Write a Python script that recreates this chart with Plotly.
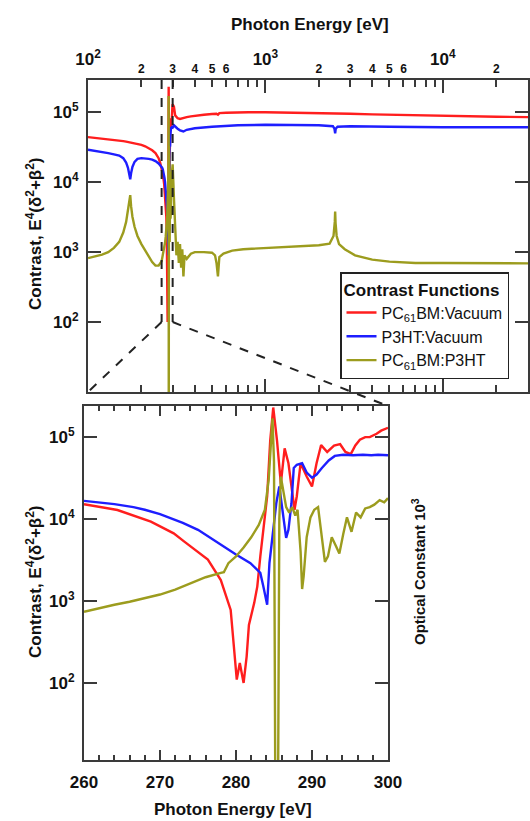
import math
import plotly.graph_objects as go

W, H = 530, 821

# ---------------- data ----------------
# Broad scan below the carbon edge (eV)
E_low = [100, 110, 120, 130, 140, 150, 158, 164, 168, 171, 173, 175, 178, 183, 190, 200, 210, 220, 230, 240, 250, 255]
red_low = [4.4e4, 4.3e4, 4.2e4, 4.1e4, 4.0e4, 3.9e4, 3.85e4, 3.8e4, 3.75e4, 3.72e4, 3.7e4, 3.68e4, 3.65e4, 3.6e4,
           3.5e4, 3.4e4, 3.25e4, 3.05e4, 2.85e4, 2.6e4, 2.2e4, 1.9e4]
blue_low = [2.9e4, 2.8e4, 2.7e4, 2.6e4, 2.5e4, 2.4e4, 2.2e4, 1.9e4, 1.6e4, 1.25e4, 1.1e4, 1.35e4, 1.65e4, 1.95e4,
            2.15e4, 2.2e4, 2.2e4, 2.15e4, 2.1e4, 2.0e4, 1.85e4, 1.75e4]
olive_low = [820, 860, 920, 1000, 1150, 1400, 1900, 2700, 3800, 5500, 6500, 4500, 3200, 2300, 1700, 1300, 1050, 850,
             720, 640, 640, 690]

# Fine scan 260-300 eV
red_fine_E = [260, 264.4, 268.8, 271.8, 273.2, 276.3, 278, 279.3, 280.1, 280.5, 281, 281.4, 281.7, 282.4, 282.8, 283.2,
              284.1, 284.5, 284.9, 285.4, 285.9, 286.4, 286.9, 287.7, 288, 288.5, 289.3, 290, 290.6, 291.2, 292,
              292.9, 293.7, 294.4, 295.1, 295.7, 296.3, 297, 297.6, 298.5, 299.1, 300]
red_fine = [1.52e4, 1.29e4, 9300, 6700, 5300, 3200, 1800, 780, 110, 175, 100, 210, 510, 950, 1500, 3500,
            1.9e4, 9e4, 2.3e5, 9e4, 2.7e4, 7.3e4, 4.8e4, 1.3e4, 1.9e4, 4.8e4, 3.3e4, 2.5e4, 4.8e4, 8e4, 6.6e4,
            7.9e4, 8.2e4, 6.6e4, 6.2e4, 7.9e4, 9.3e4, 1e5, 1e5, 1.1e5, 1.2e5, 1.3e5]
blue_fine_E = [260, 262, 264, 266.5, 268, 270, 271.6, 273, 275, 276.5, 278.5, 280, 281.9, 283.2, 283.6, 283.9, 284.1,
               284.4, 284.9, 285.3, 285.7, 286.2, 286.6, 286.9, 287.3, 287.6, 288, 288.7, 289.3, 290, 290.6, 291.3,
               292.2, 293, 294.1, 295.4, 296.7, 297.8, 298.7, 300]
blue_fine = [1.67e4, 1.6e4, 1.52e4, 1.4e4, 1.3e4, 1.15e4, 1.02e4, 9000, 7400, 6000, 4600, 3700, 2900, 2200, 1500,
             1100, 900, 2900, 7400, 1.56e4, 2.5e4, 1.07e4, 5900, 7400, 1.56e4, 4.2e4, 4.6e4, 4.8e4, 3.7e4, 3.2e4,
             3.5e4, 4.2e4, 5.2e4, 5.9e4, 6.1e4, 6e4, 6.1e4, 6e4, 6.1e4, 6e4]
olive_fine_E = [260, 262, 264, 266, 268, 270, 272, 274, 276, 278, 278.4, 279, 280, 281, 282, 283, 283.8, 284.3, 284.6,
                284.8, 285.0, 285.2, 285.5, 285.7, 285.9, 286.2, 286.6, 287.0, 287.4, 287.8, 288.1, 288.5, 288.7,
                288.9, 289.3, 289.8, 290.3, 290.8, 291.3, 291.7, 292.1, 292.6, 293.1, 293.6, 294.1, 294.6, 295.2,
                295.8, 296.4, 297.0, 297.6, 298.2, 298.9, 299.5, 300]
olive_fine = [740, 820, 900, 980, 1080, 1200, 1380, 1650, 1950, 2200, 2250, 2900, 3500, 4500, 6000, 8500, 1.3e4, 3e4,
              1e5, 1.7e5, 5e4, 1, 1, 1e4, 3.3e4, 2.3e4, 1.4e4, 1.2e4, 1.4e4, 1.1e4, 1.3e4, 4000, 1400, 2000, 6000,
              1.05e4, 1.3e4, 1.4e4, 6000, 3000, 3500, 6000, 4800, 3800, 6500, 1.05e4, 7000, 1.2e4, 1.05e4, 1.35e4,
              1.4e4, 1.5e4, 1.7e4, 1.6e4, 1.8e4]

# Broad scan above the carbon edge (eV)
red_high_E = [305, 310, 320, 330, 340, 360, 380, 400, 450, 500, 530, 540, 550, 600, 700, 800, 1000, 1500, 2000, 2470,
              3000, 4000, 6000, 8000, 10000, 15000, 20000, 31000]
red_high = [1.2e5, 9e4, 8.2e4, 8e4, 8.2e4, 8.5e4, 8.7e4, 8.9e4, 9.2e4, 9.4e4, 9.5e4, 9.2e4, 9.7e4, 9.8e4, 1e5, 1e5,
            1e5, 9.9e4, 9.8e4, 9.7e4, 9.5e4, 9.3e4, 9.1e4, 8.9e4, 8.8e4, 8.7e4, 8.6e4, 8.5e4]
blue_high_E = [305, 310, 320, 330, 345, 360, 400, 500, 700, 1000, 1500, 2000, 2400, 2450, 2472, 2490, 2550, 3000, 5000,
               10000, 31000]
blue_high = [6.5e4, 6.2e4, 5.8e4, 5.5e4, 5.3e4, 5.6e4, 5.9e4, 6.2e4, 6.5e4, 6.6e4, 6.6e4, 6.5e4, 6.3e4, 5.8e4, 5.0e4,
             5.8e4, 6.2e4, 6.3e4, 6.2e4, 6.1e4, 6.1e4]
olive_high_E = [305, 310, 315, 320, 325, 330, 335, 340, 345, 350, 360, 380, 400, 450, 500, 520, 530, 540, 550, 580, 650,
                750, 1000, 1500, 2000, 2300, 2420, 2460, 2472, 2485, 2520, 2600, 2800, 3200, 4000, 5000, 7000, 10000,
                20000, 31000]
olive_high = [6000, 1600, 900, 1400, 700, 1300, 600, 1100, 450, 900, 800, 950, 1000, 1000, 980, 900, 700, 450, 850, 950,
              1050, 1100, 1150, 1200, 1250, 1320, 1700, 2700, 3800, 2600, 1700, 1300, 1100, 900, 780, 730, 700, 700,
              690, 690]

series_names = ["PC<sub>61</sub>BM:Vacuum", "P3HT:Vacuum", "PC<sub>61</sub>BM:P3HT"]
series_colors = ["#ff1e1e", "#1e1eff", "#9c9c1e"]

zoom_range = [260, 300]
top_decades = [100, 1000, 10000]
top_decade_text = ["10<sup>2</sup>", "10<sup>3</sup>", "10<sup>4</sup>"]
top_minor_mult = [2, 3, 4, 5, 6, 7, 8, 9]
top_minor_labeled = [2, 3, 4, 5, 6]
y_tickvals = [1e2, 1e3, 1e4, 1e5]
y_ticktext = ["10<sup>2</sup>", "10<sup>3</sup>", "10<sup>4</sup>", "10<sup>5</sup>"]
bottom_xticks = [260, 270, 280, 290, 300]

# ---------------- layout geometry (pixels) ----------------
top_px = dict(x0=88, x1=528, y0=80, y1=392)
bot_px = dict(x0=84, x1=388, y0=406, y1=760)
top_xr = [2.0, 4.48]
top_yr = [1.0, 5.46]
bot_yr = [1.06, 5.38]


def fx(px):
    return px / W


def fy(py):
    return 1 - py / H


top_xdom = [fx(top_px["x0"]), fx(top_px["x1"])]
top_ydom = [fy(top_px["y1"]), fy(top_px["y0"])]
bot_xdom = [fx(bot_px["x0"]), fx(bot_px["x1"])]
bot_ydom = [fy(bot_px["y1"]), fy(bot_px["y0"])]

FONT = "Arial, 'Liberation Sans', Helvetica, sans-serif"
AX = "#3a3a3a"

fig = go.Figure()

full = [
    (E_low + red_fine_E + red_high_E, red_low + red_fine + red_high, red_fine_E, red_fine),
    (E_low + blue_fine_E + blue_high_E, blue_low + blue_fine + blue_high, blue_fine_E, blue_fine),
    (E_low + olive_fine_E + olive_high_E, olive_low + olive_fine + olive_high, olive_fine_E, olive_fine),
]
for (xt, yt, xf, yf), name, col in zip(full, series_names, series_colors):
    fig.add_trace(go.Scatter(x=xt, y=yt, mode="lines", name=name, line=dict(color=col, width=2.4),
                             xaxis="x", yaxis="y", showlegend=True))
for (xt, yt, xf, yf), name, col in zip(full, series_names, series_colors):
    fig.add_trace(go.Scatter(x=xf, y=yf, mode="lines", name=name, line=dict(color=col, width=2.4),
                             xaxis="x2", yaxis="y2", showlegend=False))
# carrier trace for the decade-label axis
fig.add_trace(go.Scatter(x=[E_low[0]], y=[red_low[0]], mode="markers", marker=dict(opacity=0),
                         xaxis="x3", yaxis="y", showlegend=False, hoverinfo="skip"))

minor_vals, minor_text = [], []
for dec in top_decades:
    for m in top_minor_mult:
        v = dec * m
        if math.log10(v) < top_xr[1]:
            minor_vals.append(v)
            if dec < 10000:
                minor_text.append(str(m) if m in top_minor_labeled else "")
            else:
                minor_text.append(str(m) if m == 2 else "")

common = dict(showline=True, linecolor=AX, linewidth=2, showgrid=False, zeroline=False,
              ticks="inside", tickcolor=AX, tickwidth=2, mirror="ticks")

fig.update_layout(
    width=W, height=H, autosize=False,
    margin=dict(l=0, r=0, t=0, b=0, autoexpand=False),
    paper_bgcolor="white", plot_bgcolor="white",
    font=dict(family=FONT, color="#111"),
    xaxis=dict(common, type="log", range=top_xr, domain=top_xdom, anchor="y", side="top",
               tickmode="array", tickvals=minor_vals, ticktext=minor_text, ticklen=7,
               tickfont=dict(size=12, weight="bold"), ticklabelstandoff=0),
    xaxis3=dict(common, type="log", range=top_xr, overlaying="x", anchor="y", side="top",
                tickmode="array", tickvals=top_decades, ticktext=top_decade_text, ticklen=13,
                tickfont=dict(size=17, weight="bold"), ticklabelstandoff=6),
    yaxis=dict(common, type="log", range=top_yr, domain=top_ydom, anchor="x",
               tickmode="array", tickvals=y_tickvals, ticktext=y_ticktext, ticklen=13,
               tickfont=dict(size=17, weight="bold"), ticklabelstandoff=4),
    xaxis2=dict(common, type="linear", range=zoom_range, domain=bot_xdom, anchor="y2",
                tickmode="array", tickvals=bottom_xticks, ticklen=10,
                minor=dict(dtick=2, tick0=260, ticks="inside", ticklen=5, tickwidth=2, tickcolor=AX),
                tickfont=dict(size=17, weight="bold"), ticklabelstandoff=6),
    yaxis2=dict(common, type="log", range=bot_yr, domain=bot_ydom, anchor="x2",
                tickmode="array", tickvals=y_tickvals, ticktext=y_ticktext, ticklen=13,
                tickfont=dict(size=17, weight="bold"), ticklabelstandoff=4),
    legend=dict(x=fx(340), y=fy(272), xanchor="left", yanchor="top",
                bgcolor="white", bordercolor="#222", borderwidth=1.5,
                title=dict(text="<b>Contrast Functions</b>", font=dict(size=17)),
                font=dict(size=16), tracegroupgap=0, itemwidth=30),
)


# zoom connector dashed lines (derived from the axis ranges)
def top_x_paper(E):
    f = (math.log10(E) - top_xr[0]) / (top_xr[1] - top_xr[0])
    return top_xdom[0] + f * (top_xdom[1] - top_xdom[0])


def top_y_paper(v):
    f = (math.log10(v) - top_yr[0]) / (top_yr[1] - top_yr[0])
    return top_ydom[0] + f * (top_ydom[1] - top_ydom[0])


xa, xb = top_x_paper(zoom_range[0]), top_x_paper(zoom_range[1])
yb = top_y_paper(y_tickvals[0])
dash = dict(color="#222", width=2, dash="dash")
fig.add_shape(type="line", xref="paper", yref="paper", x0=xa, x1=xa, y0=top_ydom[1], y1=yb, line=dash)
fig.add_shape(type="line", xref="paper", yref="paper", x0=xb, x1=xb, y0=top_ydom[1], y1=yb, line=dash)
fig.add_shape(type="line", xref="paper", yref="paper", x0=xa, x1=top_xdom[0], y0=yb, y1=top_ydom[0], line=dash)
fig.add_shape(type="line", xref="paper", yref="paper", x0=xb, x1=bot_xdom[1], y0=yb, y1=bot_ydom[1], line=dash)

ytitle = "Contrast, E<sup>4</sup>(δ<sup>2</sup>+β<sup>2</sup>)"
ann = dict(xref="paper", yref="paper", showarrow=False, xanchor="center", yanchor="middle",
           font=dict(size=17, weight="bold"))
fig.add_annotation(ann, text="Photon Energy [eV]", x=fx(310), y=fy(25))
fig.add_annotation(ann, text=ytitle, x=fx(34), y=fy(234), textangle=-90)
fig.add_annotation(ann, text=ytitle, x=fx(34), y=fy(582), textangle=-90)
fig.add_annotation(ann, text="Photon Energy [eV]", x=fx(233), y=fy(809))
fig.add_annotation(ann, text="Optical Constant 10<sup>3</sup>", x=fx(418), y=fy(572), textangle=-90,
                   font=dict(size=15, weight="bold"))

fig.write_html("out.html")
